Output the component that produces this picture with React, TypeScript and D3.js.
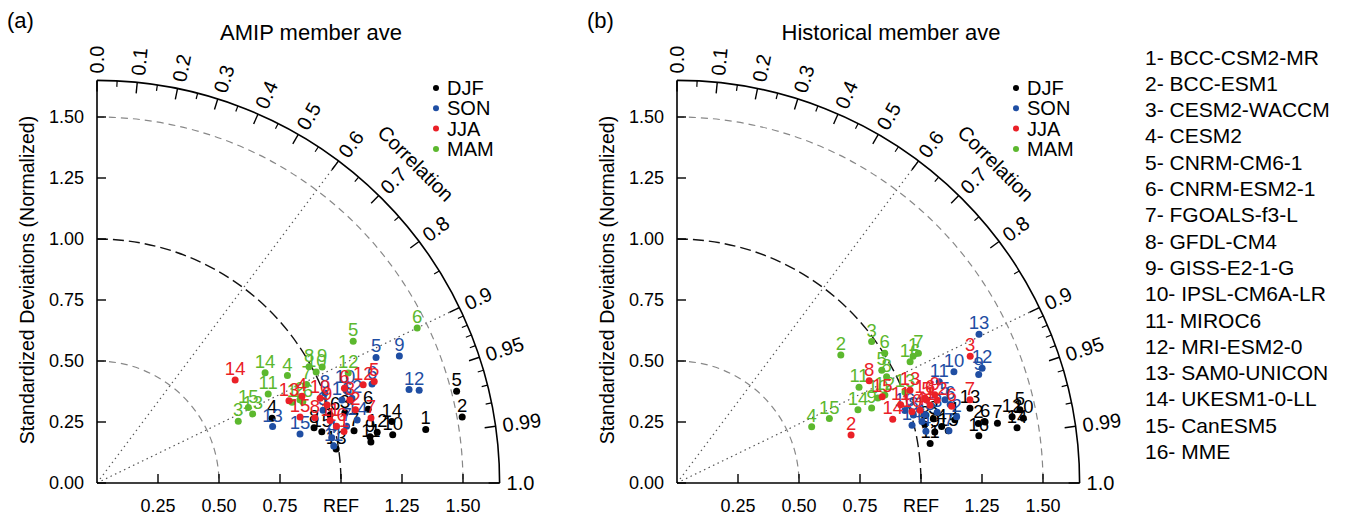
import React from "react";
import * as d3 from "d3";

const models = ["BCC-CSM2-MR","BCC-ESM1","CESM2-WACCM","CESM2","CNRM-CM6-1","CNRM-ESM2-1","FGOALS-f3-L","GFDL-CM4","GISS-E2-1-G","IPSL-CM6A-LR","MIROC6","MRI-ESM2-0","SAM0-UNICON","UKESM1-0-LL","CanESM5","MME"];
const seasons = ["DJF","SON","JJA","MAM"];
const seasonColors = ["#000000","#1f4ea3","#ea2027","#5cb82e"];
const drawOrder = [0, 1, 3, 2];

const corrMajor = [0,0.1,0.2,0.3,0.4,0.5,0.6,0.7,0.8,0.9,0.95,0.99,1.0];
const corrMajorLabels = ["0.0","0.1","0.2","0.3","0.4","0.5","0.6","0.7","0.8","0.9","0.95","0.99","1.0"];
const corrMinor = [0.05,0.15,0.25,0.35,0.45,0.55,0.65,0.75,0.85,0.91,0.92,0.93,0.94,0.96,0.97,0.98];
const corrRefLines = [0.6, 0.9];
const stdYTicks = [0,0.25,0.5,0.75,1,1.25,1.5];
const stdYLabels = ["0.00","0.25","0.50","0.75","1.00","1.25","1.50"];
const stdXTicks = [0.25,0.5,0.75,1,1.25,1.5];
const stdXLabels = ["0.25","0.50","0.75","REF","1.25","1.50"];
const stdArcs = [0.5, 1.0, 1.5];

// AMIP member average (panel a)
const amipStdDJF = [1.365,1.521,1.056,0.765,1.521,1.152,1.075,0.918,1.135,1.228,1.135,1.167,0.990,1.234,0.945,0.995];
const amipCorrDJF = [0.987,0.984,0.962,0.938,0.969,0.965,0.980,0.969,0.986,0.987,0.989,0.984,0.990,0.979,0.975,0.960];
const amipStdSON = [1.335,1.374,0.973,0.980,1.254,1.198,1.049,1.004,1.344,1.088,0.982,1.101,0.756,1.097,0.856,1.060];
const amipCorrSON = [0.958,0.961,0.952,0.982,0.912,0.941,0.975,0.930,0.922,0.934,0.988,0.949,0.952,0.972,0.972,0.947];
const amipStdJJA = [1.034,1.101,1.091,0.912,1.210,1.086,1.154,0.932,0.996,0.978,0.989,1.163,0.856,0.706,0.875,1.009];
const amipCorrJJA = [0.979,0.962,0.950,0.921,0.939,0.934,0.973,0.958,0.947,0.935,0.966,0.938,0.919,0.802,0.951,0.973];
const amipStdMAM = [0.865,0.899,0.632,0.896,1.200,1.458,0.949,0.991,1.038,1.007,0.791,1.124,0.698,0.824,0.693,0.907];
const amipCorrMAM = [0.924,0.925,0.916,0.871,0.875,0.900,0.905,0.877,0.889,0.892,0.887,0.916,0.914,0.836,0.895,0.930];

// Historical member average (panel b)
const histStdDJF = [1.168,1.259,1.083,1.109,1.437,1.287,1.336,1.044,1.077,1.444,1.050,1.400,1.239,1.412,1.132,1.252];
const histCorrDJF = [0.975,0.981,0.970,0.978,0.978,0.981,0.983,0.973,0.981,0.983,0.988,0.981,0.969,0.987,0.982,0.988];
const histStdSON = [1.035,1.178,1.105,1.042,1.150,1.165,1.135,1.008,1.314,1.223,1.152,1.336,1.380,0.992,1.054,0.980];
const histCorrSON = [0.970,0.973,0.965,0.979,0.955,0.961,0.982,0.961,0.941,0.928,0.933,0.936,0.897,0.971,0.964,0.953];
const histStdJJA = [1.085,0.740,1.309,1.040,1.078,1.169,1.248,0.892,1.117,1.006,0.971,1.119,1.028,0.922,0.912,1.074];
const histCorrJJA = [0.956,0.964,0.918,0.958,0.949,0.963,0.962,0.883,0.946,0.957,0.944,0.953,0.929,0.959,0.922,0.946];
const histStdMAM = [1.098,0.852,0.986,0.598,0.958,1.004,1.123,0.963,0.855,0.894,0.843,0.925,1.006,0.800,0.678,1.077];
const histCorrMAM = [0.881,0.788,0.809,0.923,0.876,0.848,0.881,0.892,0.933,0.921,0.885,0.921,0.929,0.927,0.921,0.887];

const FONT = "'Liberation Sans', Arial, Helvetica, sans-serif";
const MAXR = 1.65;
const UNIT = 244;

function Panel({ dx, tag, title, stds, corrs }) {
  const ox = 97 + dx;
  const oy = 483;
  const r = d3.scaleLinear().domain([0, MAXR]).range([0, MAXR * UNIT]);
  const R = r(MAXR);
  const arcPath = (rad: number) => {
    const p = d3.path();
    p.moveTo(ox, oy - r(rad));
    p.arc(ox, oy, r(rad), -Math.PI / 2, 0, false);
    return p.toString();
  };
  const polar = (rad: number, c: number) => {
    const th = Math.acos(c);
    return [ox + rad * Math.cos(th), oy - rad * Math.sin(th)];
  };
  const corrLabelAngle = Math.acos(0.7) * 180 / Math.PI - 0.5;
  const cl = (() => {
    const th = (corrLabelAngle * Math.PI) / 180;
    const rr = r(1.85);
    return [ox + rr * Math.cos(th), oy - rr * Math.sin(th)];
  })();

  return (
    <g fontFamily={FONT}>
      <text x={dx + 7} y={28} fontSize={22}>{tag}</text>
      <text x={dx + 311} y={40} fontSize={22} textAnchor="middle">{title}</text>
      <text transform={`translate(${dx + 34},280) rotate(-90)`} fontSize={19.5} textAnchor="middle">Standardized Deviations (Normalized)</text>

      {/* reference dotted lines */}
      {corrRefLines.map((c) => {
        const [x2, y2] = polar(R, c);
        return <line key={"rl" + c} x1={ox} y1={oy} x2={x2} y2={y2} stroke="#555" strokeWidth={1.2} strokeDasharray="1.5,3.5" />;
      })}
      {/* std arcs */}
      {stdArcs.map((s) => (
        <path key={"sa" + s} d={arcPath(s)} fill="none"
          stroke={s === 1 ? "#111" : "#888"} strokeWidth={s === 1 ? 1.4 : 1.2}
          strokeDasharray={s === 1 ? "11,5" : "7,5"} />
      ))}
      {/* outer arc */}
      <path d={arcPath(MAXR)} fill="none" stroke="#000" strokeWidth={1.6} />
      {/* axes */}
      <line x1={ox} y1={oy} x2={ox} y2={oy - R} stroke="#000" strokeWidth={1.6} />
      <line x1={ox} y1={oy} x2={ox + R} y2={oy} stroke="#000" strokeWidth={1.6} />

      {/* corr ticks */}
      {corrMajor.map((c, i) => {
        const [x1, y1] = polar(R, c);
        const [x2, y2] = polar(R - 11, c);
        const [lx, ly] = polar(R + 7, c);
        const ang = (-Math.acos(c) * 180) / Math.PI;
        return (
          <g key={"cm" + c}>
            <line x1={x1} y1={y1} x2={x2} y2={y2} stroke="#000" strokeWidth={1.4} />
            <text transform={`translate(${lx},${ly}) rotate(${ang})`} fontSize={20} dominantBaseline="central">{corrMajorLabels[i]}</text>
          </g>
        );
      })}
      {corrMinor.map((c) => {
        const [x1, y1] = polar(R, c);
        const [x2, y2] = polar(R - 6, c);
        return <line key={"cn" + c} x1={x1} y1={y1} x2={x2} y2={y2} stroke="#000" strokeWidth={1.2} />;
      })}
      <text transform={`translate(${cl[0]},${cl[1]}) rotate(${90 - corrLabelAngle})`} fontSize={20} textAnchor="middle" dominantBaseline="central">Correlation</text>

      {/* std ticks */}
      {stdYTicks.map((v, i) => (
        <g key={"yt" + v}>
          <line x1={ox} y1={oy - r(v)} x2={ox + 9} y2={oy - r(v)} stroke="#000" strokeWidth={1.4} />
          <text x={ox - 13} y={oy - r(v)} fontSize={18} textAnchor="end" dominantBaseline="central">{stdYLabels[i]}</text>
        </g>
      ))}
      {stdXTicks.map((v, i) => (
        <g key={"xt" + v}>
          <line x1={ox + r(v)} y1={oy} x2={ox + r(v)} y2={oy - 9} stroke="#000" strokeWidth={1.4} />
          <text x={ox + r(v)} y={oy + 23} fontSize={18} textAnchor="middle" dominantBaseline="central">{stdXLabels[i]}</text>
        </g>
      ))}

      {/* points */}
      {drawOrder.map((s) => (
        <g key={"s" + s} fill={seasonColors[s]}>
          {stds[s].map((sd, i) => {
            const c = corrs[s][i];
            const [x, y] = polar(r(sd), c);
            return (
              <g key={i}>
                <circle cx={x} cy={y} r={3.5} />
                <text x={x} y={y - 5} fontSize={18.5} textAnchor="middle">{String(i + 1)}</text>
              </g>
            );
          })}
        </g>
      ))}

      {/* season legend */}
      {seasons.map((s, i) => (
        <g key={"lg" + s}>
          <circle cx={ox + 339} cy={88 + i * 20.3} r={3} fill={seasonColors[i]} />
          <text x={ox + 350} y={88 + i * 20.3} fontSize={20} dominantBaseline="central">{s}</text>
        </g>
      ))}
    </g>
  );
}

export default function App() {
  const amipStd = [amipStdDJF, amipStdSON, amipStdJJA, amipStdMAM];
  const amipCorr = [amipCorrDJF, amipCorrSON, amipCorrJJA, amipCorrMAM];
  const histStd = [histStdDJF, histStdSON, histStdJJA, histStdMAM];
  const histCorr = [histCorrDJF, histCorrSON, histCorrJJA, histCorrMAM];
  return (
    <svg width={1348} height={518} style={{ position: "absolute", left: 0, top: 0, background: "#fff" }}>
      <rect width={1348} height={518} fill="#fff" />
      <Panel dx={0} tag="(a)" title="AMIP member ave" stds={amipStd} corrs={amipCorr} />
      <Panel dx={580} tag="(b)" title="Historical member ave" stds={histStd} corrs={histCorr} />
      <g fontFamily={FONT} fontSize={21}>
        {models.map((m, i) => (
          <text key={m} x={1145} y={57 + i * 26.3} dominantBaseline="central">{`${i + 1}- ${m}`}</text>
        ))}
      </g>
    </svg>
  );
}
